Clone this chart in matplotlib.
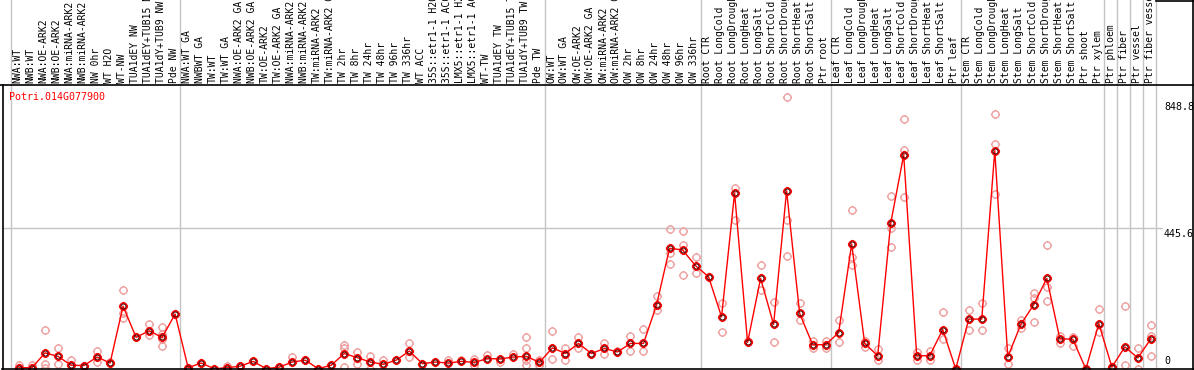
import numpy as np
import matplotlib
matplotlib.use('Agg')
import matplotlib.pyplot as plt
from matplotlib.path import Path
from matplotlib.lines import Line2D
from matplotlib.transforms import blended_transform_factory

# ---------------- data ----------------
labels = [
    # group 1
    'NWA:WT', 'NWB:WT', 'NWA:OE-ARK2', 'NWB:OE-ARK2', 'NWA:miRNA-ARK2', 'NWB:miRNA-ARK2',
    'NW 0hr', 'WT H2O', 'WT-NW', 'TUA1dEY NW', 'TUA1dEY+TUB15 NW', 'TUA1dY+TUB9 NW', 'Pde NW',
    # group 2
    'NWA:WT GA', 'NWBWT GA', 'TW:WT', 'TW:WT GA', 'NWA:OE-ARK2 GA', 'NWB:OE-ARK2 GA',
    'TW:OE-ARK2', 'TW:OE-ARK2 GA', 'NWA:miRNA-ARK2 GA', 'NWB:miRNA-ARK2 GA', 'TW:miRNA-ARK2',
    'TW:miRNA-ARK2 GA', 'TW 2hr', 'TW 8hr', 'TW 24hr', 'TW 48hr', 'TW 96hr', 'TW 336hr', 'WT ACC',
    '35S::etr1-1 H2O', '35S::etr1-1 ACC', 'LMX5::etr1-1 H2O', 'LMX5::etr1-1 ACC', 'WT-TW',
    'TUA1dEY TW', 'TUA1dEY+TUB15 TW', 'TUA1dY+TUB9 TW', 'Pde TW',
    # group 3
    'OW:WT', 'OW:WT GA', 'OW:OE-ARK2', 'OW:OE-ARK2 GA', 'OW:miRNA-ARK2', 'OW:miRNA-ARK2 GA',
    'OW 2hr', 'OW 8hr', 'OW 24hr', 'OW 48hr', 'OW 96hr', 'OW 336hr',
    # group 4
    'Root CTR', 'Root LongCold', 'Root LongDrought', 'Root LongHeat', 'Root LongSalt',
    'Root ShortCold', 'Root ShortDrought', 'Root ShortHeat', 'Root ShortSalt', 'Ptr root',
    # group 5
    'Leaf CTR', 'Leaf LongCold', 'Leaf LongDrought', 'Leaf LongHeat', 'Leaf LongSalt',
    'Leaf ShortCold', 'Leaf ShortDrought', 'Leaf ShortHeat', 'Leaf ShortSalt', 'Ptr leaf',
    # group 6
    'Stem CTR', 'Stem LongCold', 'Stem LongDrought', 'Stem LongHeat', 'Stem LongSalt',
    'Stem ShortCold', 'Stem ShortDrought', 'Stem ShortHeat', 'Stem ShortSalt', 'Ptr shoot',
    'Ptr xylem', 'Ptr phloem', 'Ptr fiber', 'Ptr vessel', 'Ptr fiber vessel',
]

means = [
    4, 4, 51, 40, 12, 11, 38, 19, 199, 100, 121, 100, 174,
    4, 19, 1, 4, 9, 24, 1, 6, 22, 28, 1, 12, 49, 36, 22, 15, 28, 57, 17, 22, 19, 24, 21, 33,
    32, 38, 40, 21,
    67, 49, 81, 49, 65, 54, 81, 81, 202, 382, 377, 327,
    292, 165, 557, 84, 287, 141, 564, 176, 77, 77,
    115, 396, 81, 42, 461, 678, 42, 42, 125, 0,
    158, 158, 691, 38, 141, 204, 287, 96, 94, 0,
    144, 6, 70, 35, 96,
]

reps = [
    [12, 4], [12, 4], [125, 17, 4], [65, 15], [28, 12], [11], [56, 22], [21, 19],
    [250, 176, 160], [100], [144, 107], [133, 112, 94, 72], [174],
    [4], [19], [1], [11, 4], [9], [24], [1], [6], [38, 22], [28], [1], [12],
    [75, 65, 6], [54, 17], [40, 1], [28], [28], [83, 38], [17], [22], [28], [28],
    [33, 12], [43], [22], [49], [100, 65, 28, 12], [28, 12],
    [120, 31], [68, 30], [100, 65], [49], [81, 49], [57], [104, 57], [128, 57],
    [231, 186], [442, 368, 332], [437, 393, 297], [354, 303],
    [292], [208, 117], [573, 472], [88], [329, 250], [213, 84], [862, 472, 358],
    [208, 155], [88, 67], [88, 67],
    [155, 86], [504, 354, 329], [88, 70], [62, 30], [548, 445, 385], [791, 694, 546],
    [55, 30], [57, 30], [179, 96], [0],
    [186, 123], [208, 123], [808, 713, 553], [65, 17], [155, 130], [239, 225, 148],
    [393, 258, 215], [105, 81], [100, 73], [0],
    [189, 116], [6, 0], [201, 14], [68, 0], [138, 105, 42],
]

group_starts = [0, 13, 41, 53, 63, 73, 84, 85, 86, 87, 88]
y_ticks = [0, 445.6, 848.8]
y_tick_labels = ['0', '445.6', '848.8']
gene = 'Potri.014G077900'

# ---------------- figure ----------------
W, H = 1194, 370
fig = plt.figure(figsize=(W / 100, H / 100), dpi=100)
fig.patch.set_facecolor('white')


def fx(px):
    return px / W


def fy(py):
    return 1 - py / H


ax_l, ax_r, ax_t, ax_b = 3, 1163, 85, 369
ax = fig.add_axes([fx(ax_l), fy(ax_b), (ax_r - ax_l) / W, (ax_b - ax_t) / H])
hax = fig.add_axes([fx(ax_l), fy(ax_t), (ax_r - ax_l) / W, ax_t / H])

n = len(labels)
x = np.arange(n)
xl = (-1.23, 87.93)
ax.set_xlim(xl)
hax.set_xlim(xl)
ax.set_ylim(0, 899)
hax.set_ylim(0, 1)
for a in (ax, hax):
    a.axis('off')

mono = 'DejaVu Sans Mono'
grid_c = '#c4c4c4'

# group separators
for k in group_starts:
    ax.axvline(k - 0.6, color=grid_c, lw=1, zorder=1)
    hax.axvline(k - 0.6, color=grid_c, lw=1, zorder=1)

# horizontal grid line
ax.axhline(y_ticks[1], color=grid_c, lw=1, zorder=1)

# custom marker: circle (polyline) with four short ticks
ang = np.linspace(0, 2 * np.pi, 41)
cverts = [(np.cos(a), np.sin(a)) for a in ang]
ccodes = [Path.MOVETO] + [Path.LINETO] * 40
t0, t1 = 1.0, 1.3
tverts = [(t0, 0), (t1, 0), (-t0, 0), (-t1, 0), (0, t0), (0, t1), (0, -t0), (0, -t1)]
tcodes = [Path.MOVETO, Path.LINETO] * 4
marker = Path(cverts + tverts, ccodes + tcodes)
MS = 6.6  # points, total extent including ticks (~9 px)

# replicates
for i, r in enumerate(reps):
    ax.plot([i] * len(r), r, ls='none', marker=marker, ms=MS, mfc='none',
            mec='#eda0a0', mew=1.0, zorder=2)

# mean line and markers
ax.plot(x, means, color='#ff0000', lw=1.0, zorder=3)
ax.plot(x, means, ls='none', marker=marker, ms=MS, mfc='none', mec='#ff0000', mew=1.1, zorder=4)
ax.plot(x, means, ls='none', marker='o', ms=3.6, mfc='none', mec='#400000', mew=0.7, zorder=5)

# header labels
for i, lab in enumerate(labels):
    hax.text(i - 0.1, 0.025, lab, rotation=90, ha='center', va='bottom', fontsize=7.0,
             family=mono, color='black', clip_on=False)

# right value labels
tr = blended_transform_factory(ax.transAxes, ax.transData)
ax.text(1.0 + 1 / 1160, y_ticks[2] - 4, y_tick_labels[2], transform=tr, ha='left', va='top',
        fontsize=7.2, family=mono, color='black', clip_on=False)
ax.text(1.0 + 1 / 1160, y_ticks[1] - 2, y_tick_labels[1], transform=tr, ha='left', va='top',
        fontsize=7.2, family=mono, color='black', clip_on=False)
ax.text(1.0 + 1 / 1160, y_ticks[0] + 9, y_tick_labels[0], transform=tr, ha='left', va='bottom',
        fontsize=7.2, family=mono, color='black', clip_on=False)

# gene label
ax.text(6 / 1160, 1 - 12 / 284, gene, transform=ax.transAxes, ha='left', va='center',
        fontsize=7.2, family=mono, color='#ff0000')

# frame lines (pixel coordinates of the panel frame)
def hline(py, x0, x1):
    fig.add_artist(Line2D([fx(x0), fx(x1)], [fy(py), fy(py)], transform=fig.transFigure,
                          color='black', lw=1.2))


def vline(px, y0, y1):
    fig.add_artist(Line2D([fx(px), fx(px)], [fy(y0), fy(y1)], transform=fig.transFigure,
                          color='black', lw=1.2))


hline(85, 0, 1194)
hline(369, 2, 1194)
hline(0.5, 1156, 1194)
vline(2.5, 85, 370)
vline(1193, 0, 370)

fig.savefig('out.png', dpi=100)
